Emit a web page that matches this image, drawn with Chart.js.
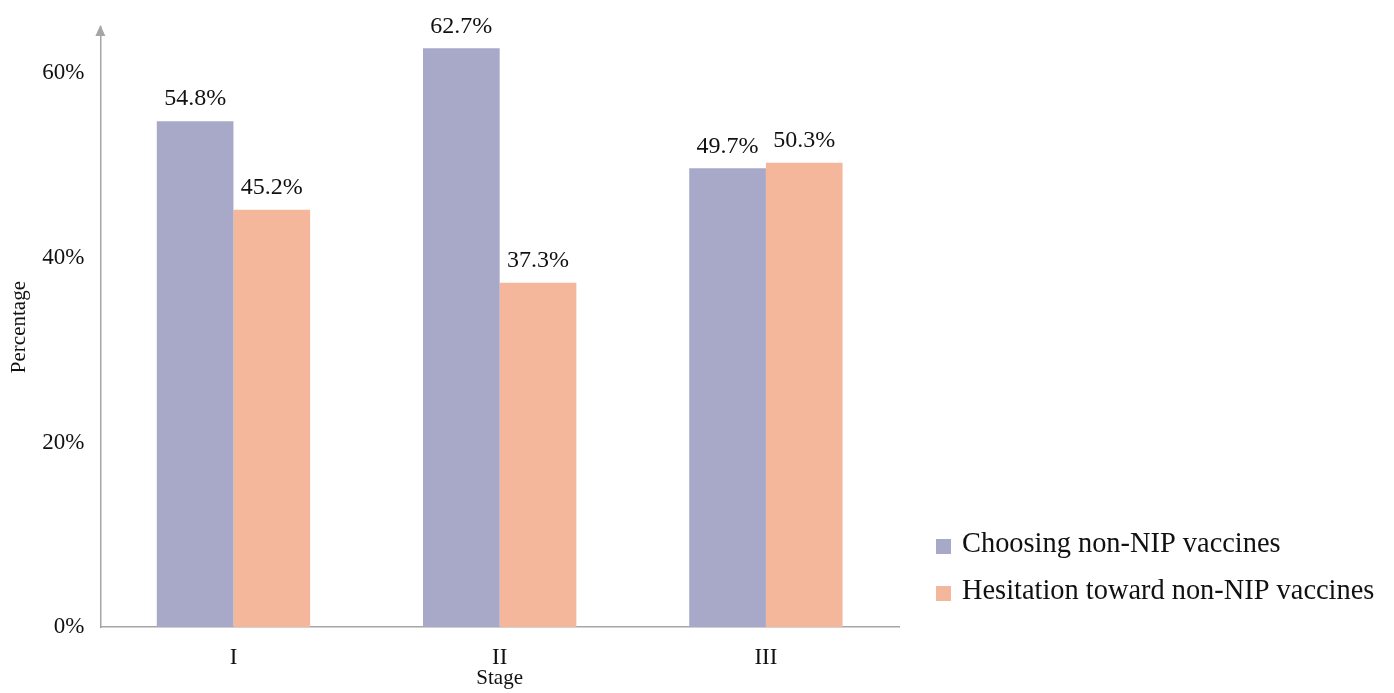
<!DOCTYPE html>
<html>
<head>
<meta charset="utf-8">
<script src="https://cdn.jsdelivr.net/npm/chart.js@4.4.0/dist/chart.umd.min.js"></script>
<style>
  html, body { margin: 0; padding: 0; background: #fff; }
  #wrap { width: 1394px; height: 693px; }
</style>
</head>
<body>
<div id="wrap"><canvas id="stageChart"></canvas></div>
<script>
// данные
const stages = ['I', 'II', 'III'];
const choosingValues = [54.8, 62.7, 49.7];
const hesitationValues = [45.2, 37.3, 50.3];
const yTicks = [0, 20, 40, 60];

const serif = '"Liberation Serif", "Times New Roman", serif';

// подписи над столбцами
const barLabels = {
    id: 'barLabels',
    afterDatasetsDraw(chart) {
        const ctx = chart.ctx;
        ctx.save();
        ctx.font = '24px ' + serif;
        ctx.fillStyle = '#111';
        ctx.textAlign = 'center';
        ctx.textBaseline = 'bottom';
        chart.data.datasets.forEach((ds, i) => {
            chart.getDatasetMeta(i).data.forEach((bar, j) => {
                ctx.fillText(ds.data[j].toFixed(1) + '%', bar.x, bar.y - 10);
            });
        });
        ctx.restore();
    }
};

// стрелка на оси Y
const axisArrow = {
    id: 'axisArrow',
    afterDraw(chart) {
        const { ctx, chartArea } = chart;
        const x = chartArea.left;
        const y = chartArea.top - 2;
        ctx.save();
        ctx.fillStyle = '#a6a6a6';
        ctx.beginPath();
        ctx.moveTo(x, y);
        ctx.lineTo(x - 5, y + 11);
        ctx.lineTo(x + 5, y + 11);
        ctx.closePath();
        ctx.fill();
        ctx.restore();
    }
};

// легенда справа
const sideLegend = {
    id: 'sideLegend',
    afterDraw(chart) {
        const ctx = chart.ctx;
        ctx.save();
        ctx.font = '28.4px ' + serif;
        ctx.textBaseline = 'middle';
        chart.data.datasets.forEach((ds, i) => {
            const y = 545 + i * 47;
            ctx.fillStyle = ds.backgroundColor;
            ctx.fillRect(936, y - 6, 15, 15);
            ctx.fillStyle = '#111';
            ctx.fillText(ds.label, 962, y);
        });
        ctx.restore();
    }
};

const ctx = document.getElementById('stageChart').getContext('2d');
new Chart(ctx, {
    type: 'bar',
    data: {
        labels: stages,
        datasets: [
            {
                label: 'Choosing non-NIP vaccines',
                data: choosingValues,
                backgroundColor: '#a8a8c8',
                categoryPercentage: 0.576,
                barPercentage: 1.0
            },
            {
                label: 'Hesitation toward non-NIP vaccines',
                data: hesitationValues,
                backgroundColor: '#f5b79b',
                categoryPercentage: 0.576,
                barPercentage: 1.0
            }
        ]
    },
    options: {
        responsive: true,
        maintainAspectRatio: false,
        animation: false,
        layout: { padding: { left: 7, right: 495, top: 27, bottom: 2 } },
        scales: {
            x: {
                grid: { display: false },
                border: { color: '#a6a6a6', width: 1.5 },
                ticks: { color: '#111', font: { family: serif, size: 23 }, padding: 9 },
                title: {
                    display: true,
                    text: 'Stage',
                    color: '#111',
                    font: { family: serif, size: 21 },
                    padding: { top: -15, bottom: 0 }
                }
            },
            y: {
                min: 0,
                max: 65,
                grid: { display: false },
                border: { color: '#a6a6a6', width: 1.5 },
                afterBuildTicks(axis) {
                    axis.ticks = yTicks.map(v => ({ value: v }));
                },
                ticks: {
                    color: '#111',
                    font: { family: serif, size: 23 },
                    padding: 8,
                    callback: v => v + '%'
                },
                title: {
                    display: true,
                    text: 'Percentage',
                    color: '#111',
                    font: { family: serif, size: 21 },
                    padding: { top: 0, bottom: 2 }
                }
            }
        },
        plugins: {
            legend: { display: false },
            tooltip: { enabled: false }
        }
    },
    plugins: [barLabels, axisArrow, sideLegend]
});
</script>
</body>
</html>
